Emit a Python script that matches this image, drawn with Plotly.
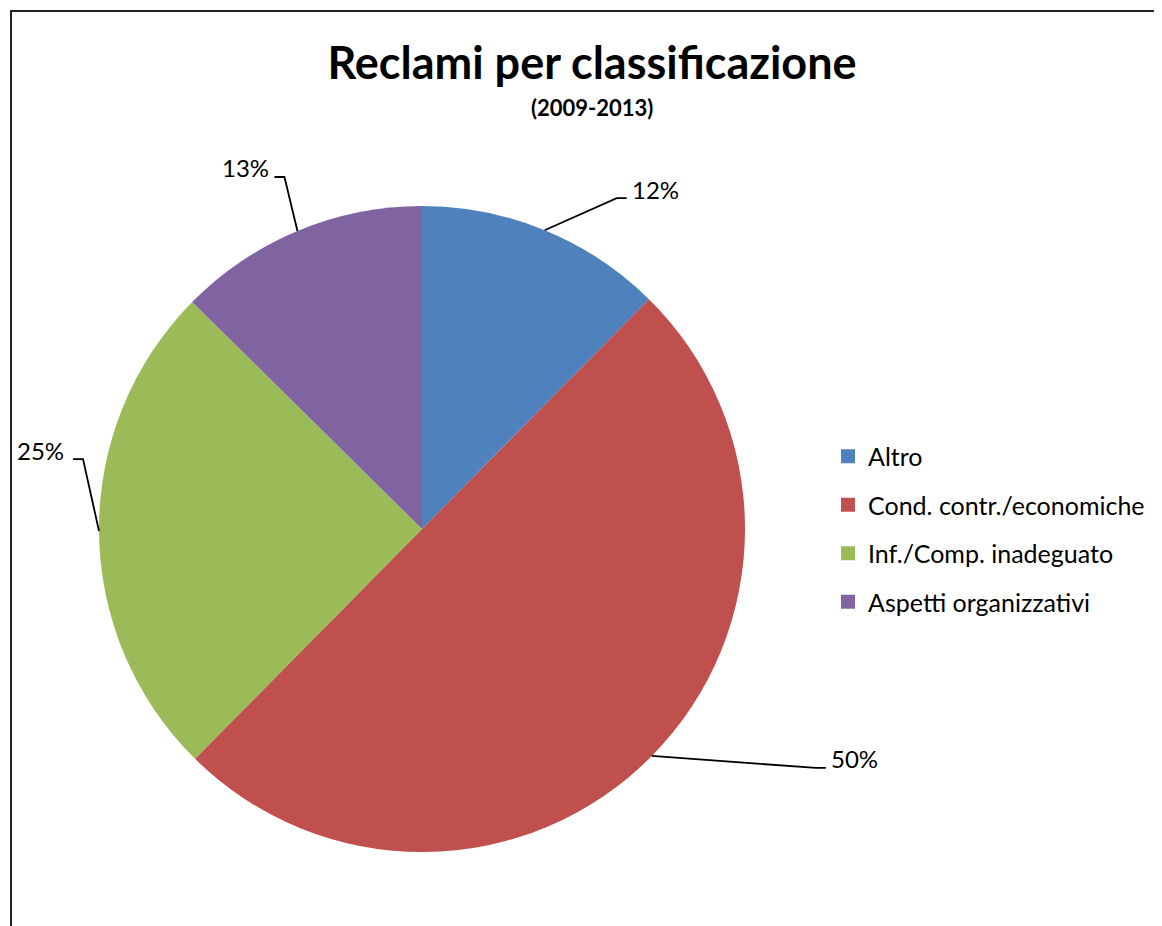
import math
import plotly.graph_objects as go

# ---- data ----
categories = ["Altro", "Cond. contr./economiche", "Inf./Comp. inadeguato", "Aspetti organizzativi"]
values = [12.4, 50.0, 25.0, 12.6]
colors = ["#4F81BD", "#C0504D", "#9BBB59", "#8064A2"]
title_text = "Reclami per classificazione"
subtitle_text = "(2009-2013)"

# ---- layout geometry (page pixels) ----
W, H = 1162, 926
OFF = 8  # page body margin
CX, CY, R = 422, 529, 323
FONT = "Lato"

# leader-line elbow offsets from slice edge, and gap to text (style)
elbow_off = [(72, -32), (164, 12), (-16, -72), (-13, -54)]
text_gap = [3, 3, 7, 3]
HSEG = 10

def px(x):
    return (x - OFF) / W

def py(y):
    return 1 - (y - OFF) / H

fig = go.Figure()
fig.add_trace(go.Pie(
    labels=categories, values=values, sort=False, direction="clockwise", rotation=0,
    marker=dict(colors=colors, line=dict(width=0)),
    textinfo="none", hoverinfo="label+percent", showlegend=False,
    domain=dict(x=[px(CX - R), px(CX + R)], y=[py(CY + R), py(CY - R)]),
))

# legend entries (dummy traces so spacing can match)
for i, (c, col) in enumerate(zip(categories, colors)):
    fig.add_trace(go.Scatter(
        x=[None], y=[None], mode="markers", name=c, legendgroup=f"g{i}",
        marker=dict(symbol="square", size=14, color=col), showlegend=True,
    ))

# percentage labels with leader lines, computed from the data
total = sum(values)
cum = 0.0
shapes = []
annotations = []
for v, (ox, oy), gap in zip(values, elbow_off, text_gap):
    mid = (cum + v / 2) / total * 2 * math.pi
    cum += v
    ex = CX + R * math.sin(mid)
    ey = CY - R * math.cos(mid)
    bx, by = ex + ox, ey + oy
    side = 1 if ox > 0 else -1
    hx = bx + side * HSEG
    shapes.append(dict(
        type="path", xref="paper", yref="paper",
        path=f"M {px(ex)},{py(ey)} L {px(bx)},{py(by)} L {px(hx)},{py(by)}",
        line=dict(color="black", width=1.8),
    ))
    pct = round(v / total * 100)
    annotations.append(dict(
        xref="paper", yref="paper", x=px(hx + side * gap), y=py(by - 9),
        xanchor="left" if side > 0 else "right", yanchor="middle",
        text=f"{pct}%", showarrow=False,
        font=dict(family=FONT, size=24, color="black"),
    ))

# subtitle
annotations.append(dict(
    xref="paper", yref="paper", x=px(592), y=py(107), xanchor="center", yanchor="middle",
    text=f"<b>{subtitle_text}</b>", showarrow=False,
    font=dict(family=FONT, size=22, color="black"),
))

# chart frame
shapes.append(dict(
    type="rect", xref="paper", yref="paper",
    x0=px(11), y0=-0.05, x1=1.05, y1=py(11),
    line=dict(color="#222222", width=2), fillcolor="rgba(0,0,0,0)",
))

fig.update_layout(
    width=W, height=H,
    margin=dict(l=0, r=0, t=0, b=0),
    paper_bgcolor="white", plot_bgcolor="white",
    title=dict(text=f"<b>{title_text}</b>", x=px(592), y=py(63), xanchor="center", yanchor="middle",
               font=dict(family=FONT, size=45, color="black")),
    xaxis=dict(visible=False), yaxis=dict(visible=False),
    legend=dict(x=px(828), y=py(529), xanchor="left", yanchor="middle",
                font=dict(family=FONT, size=25, color="black"),
                tracegroupgap=13, itemclick=False, itemdoubleclick=False,
                bgcolor="rgba(0,0,0,0)"),
    shapes=shapes,
    annotations=annotations,
)

fig.write_html("out.html")
